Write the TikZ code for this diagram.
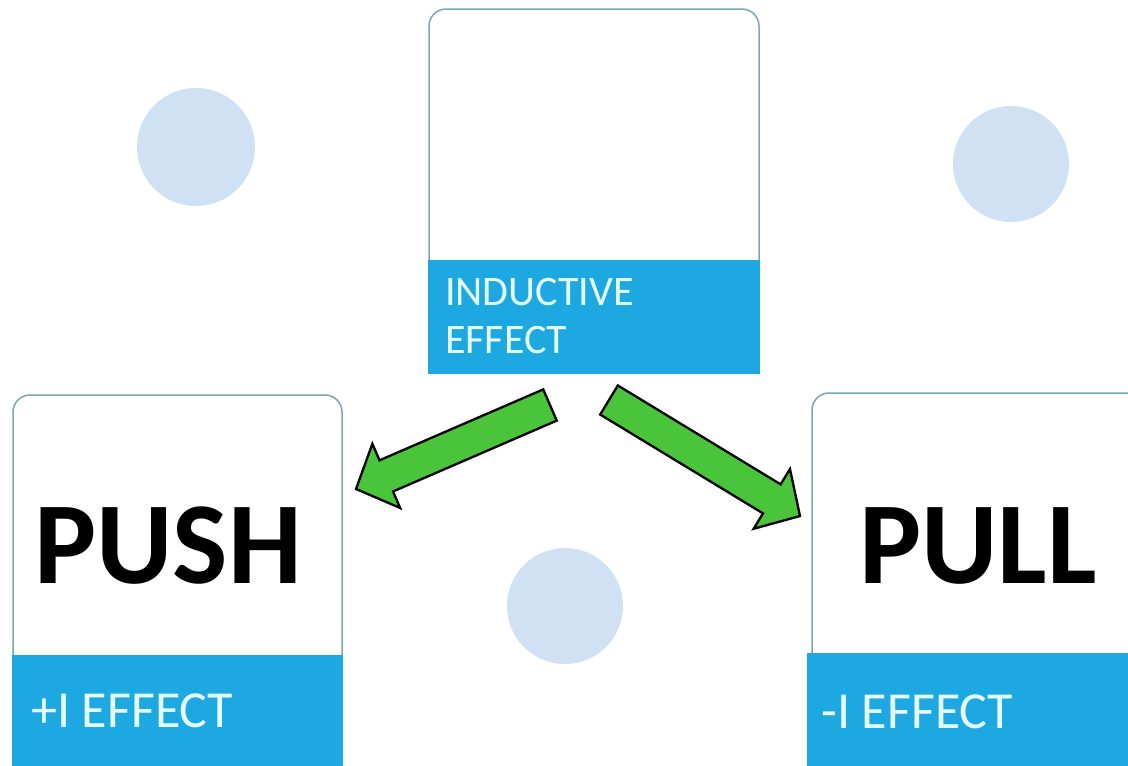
\documentclass[tikz,border=0pt]{standalone}
\usepackage{fontspec}
\setmainfont{Carlito}
\usetikzlibrary{calc}

\definecolor{bandblue}{RGB}{30,168,225}
\definecolor{cardline}{RGB}{122,166,182}
\definecolor{dotblue}{RGB}{207,225,243}
\definecolor{bandtext}{RGB}{230,255,255}
\definecolor{arrowgreen}{RGB}{74,196,58}

\tikzset{
  card/.style={draw=cardline, line width=1.5pt, rounded corners=17pt, fill=white,
               inner sep=0pt, rectangle},
  band/.style={fill=bandblue, draw=none},
  dot/.style={fill=dotblue, draw=none},
  bandlabel/.style={anchor=base west, inner sep=0pt, text=bandtext,
                    font=\fontsize{52}{52}\selectfont},
  toplabel/.style={anchor=base west, inner sep=0pt, text=bandtext,
                   font=\fontsize{42}{42}\selectfont},
  bigword/.style={anchor=base west, inner sep=0pt, text=black,
                  font=\bfseries\fontsize{117}{117}\selectfont},
  blockarrow/.style={fill=arrowgreen, draw=black, line width=2.3pt, line join=miter},
}

% block arrow from #1 (tail) to #2 (tip): shaft half width 17, head half width 35, head length 33
\newcommand\greenblockarrow[2]{%
  \coordinate (#1-neck) at ($(#2)!33pt!(#1)$);
  \draw[blockarrow]
    ($(#1)!17pt!90:(#2)$) -- ($(#1-neck)!17pt!90:(#2)$) -- ($(#1-neck)!35pt!90:(#2)$)
    -- (#2)
    -- ($(#1-neck)!35pt!-90:(#2)$) -- ($(#1-neck)!17pt!-90:(#2)$) -- ($(#1)!17pt!-90:(#2)$)
    -- cycle;
}

\begin{document}
\begin{tikzpicture}[x=1pt, y=-1pt]
\useasboundingbox (0,0) rectangle (1128,766);
\fill[white] (0,0) rectangle (1128,766);

% decorative circles
\fill[dot] (196,147) circle[radius=59];
\fill[dot] (1011,164) circle[radius=58];
\fill[dot] (565,606) circle[radius=58];

% top card: inductive effect
\node[card, minimum width=330pt, minimum height=364pt] (topcard) at (594,191) {};
\fill[band] (428,260) rectangle (760,374);
\node[toplabel] (topline1) at (445,305) {INDUCTIVE};
\node[toplabel] (topline2) at (445,353) {EFFECT};

% left card: push
\node[card, minimum width=329pt, minimum height=385pt] (pushcard) at (177.5,587.5) {};
\fill[band] (12,655) rectangle (343,775);
\node[bigword] (pushword) at (34,583) {PUSH};
\node[bandlabel] (pluslabel) at (31,727) {+I EFFECT};

% right card: pull
\node[card, minimum width=333pt, minimum height=387pt] (pullcard) at (978.5,586.5) {};
\fill[band] (807,653) rectangle (1140,775);
\node[bigword] (pullword) at (859,583) {PULL};
\node[bandlabel] (minuslabel) at (821,728) {-I EFFECT};

% arrows
\coordinate (ltail) at (550,405);
\coordinate (ltip) at (356,489);
\coordinate (rtail) at (609,400);
\coordinate (rtip) at (800,516);
\greenblockarrow{ltail}{ltip}
\greenblockarrow{rtail}{rtip}
\end{tikzpicture}
\end{document}
